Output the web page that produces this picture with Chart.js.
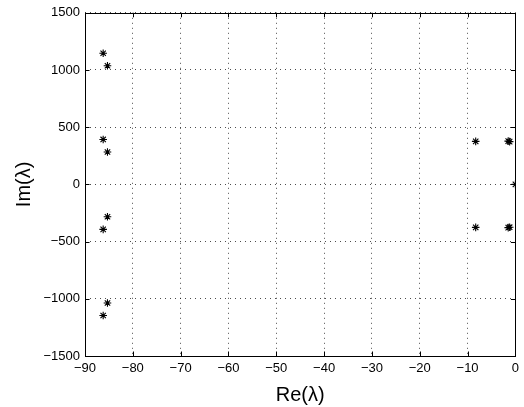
<!DOCTYPE html>
<html>
<head>
<meta charset="utf-8">
<script src="https://cdn.jsdelivr.net/npm/chart.js@4/dist/chart.umd.min.js"></script>
<style>
    html, body { margin: 0; padding: 0; background: #fff; }
    #wrap { width: 524px; height: 407px; }
</style>
</head>
<body>
<div id="wrap"><canvas id="eigChart" width="524" height="407"></canvas></div>
<script>
const reVals = [-86.2, -85.3, -86.2, -85.3, -85.3, -86.2, -85.3, -86.2, -8.3, -8.3, -1.5, -1.2, -1.5, -1.2, 0];
const imVals = [1146, 1037, 393, 283, -283, -393, -1037, -1146, 376, -376, 378, 374, -378, -374, 0];

const xTicks = [-90, -80, -70, -60, -50, -40, -30, -20, -10, 0];
const yTicks = [-1500, -1000, -500, 0, 500, 1000, 1500];

const FONT = '"Liberation Sans", Arial, Helvetica, sans-serif';

document.addEventListener('DOMContentLoaded', function() {
    initChart();
});

function fmt(v) {
    return v < 0 ? '\u2212' + Math.abs(v) : String(v);
}

// box round the axes plus MATLAB style inward ticks on all four sides
const boxPlugin = {
    id: 'boxTicks',
    afterDraw(chart) {
        const ctx = chart.ctx;
        const a = chart.chartArea;
        const xs = chart.scales.x;
        const ys = chart.scales.y;
        const len = 4.5;
        ctx.save();
        ctx.strokeStyle = '#000';
        ctx.lineWidth = 1;
        ctx.setLineDash([]);
        ctx.beginPath();
        xTicks.forEach(v => {
            const px = Math.round(xs.getPixelForValue(v)) + 0.5;
            ctx.moveTo(px, a.bottom); ctx.lineTo(px, a.bottom - len);
            ctx.moveTo(px, a.top); ctx.lineTo(px, a.top + len);
        });
        yTicks.forEach(v => {
            const py = Math.round(ys.getPixelForValue(v)) + 0.5;
            ctx.moveTo(a.left, py); ctx.lineTo(a.left + len, py);
            ctx.moveTo(a.right, py); ctx.lineTo(a.right - len, py);
        });
        ctx.stroke();
        ctx.strokeRect(Math.round(a.left) + 0.5, Math.round(a.top) + 0.5,
            Math.round(a.right - a.left), Math.round(a.bottom - a.top));
        ctx.restore();
    }
};

function initChart() {
    const points = reVals.map((x, i) => ({ x: x, y: imVals[i] }));

    new Chart(document.getElementById('eigChart'), {
        type: 'scatter',
        data: {
            datasets: [{
                data: points,
                pointStyle: 'star',
                pointRadius: 3.8,
                pointHoverRadius: 3.8,
                borderColor: '#000',
                backgroundColor: '#000',
                borderWidth: 1.1
            }]
        },
        options: {
            responsive: false,
            animation: false,
            events: [],
            layout: { padding: { left: 0, right: 5, top: 11, bottom: 0 } },
            plugins: { legend: { display: false }, tooltip: { enabled: false } },
            scales: {
                x: {
                    type: 'linear',
                    min: -90,
                    max: 0,
                    afterBuildTicks: s => { s.ticks = xTicks.map(v => ({ value: v })); },
                    afterFit: s => { s.height = 51; },
                    grid: { color: 'rgba(0,0,0,0.7)', borderDash: [1, 4], drawTicks: false },
                    border: { display: false, dash: [1, 4] },
                    ticks: {
                        padding: 5,
                        color: '#000',
                        font: { family: FONT, size: 13 },
                        maxRotation: 0,
                        callback: v => fmt(v)
                    },
                    title: {
                        display: true,
                        text: 'Re(\u03bb)',
                        color: '#000',
                        font: { family: FONT, size: 20 },
                        padding: { top: 0, bottom: 0 }
                    }
                },
                y: {
                    type: 'linear',
                    min: -1500,
                    max: 1500,
                    afterBuildTicks: s => { s.ticks = yTicks.map(v => ({ value: v })); },
                    afterFit: s => { s.width = 85; },
                    grid: { color: 'rgba(0,0,0,0.7)', borderDash: [1, 4], drawTicks: false },
                    border: { display: false, dash: [1, 4] },
                    ticks: {
                        padding: 5,
                        color: '#000',
                        font: { family: FONT, size: 13 },
                        callback: v => fmt(v)
                    },
                    title: {
                        display: true,
                        text: 'Im(\u03bb)',
                        color: '#000',
                        font: { family: FONT, size: 20 },
                        padding: { top: 12, bottom: 0 }
                    }
                }
            }
        },
        plugins: [boxPlugin]
    });
}
</script>
</body>
</html>
